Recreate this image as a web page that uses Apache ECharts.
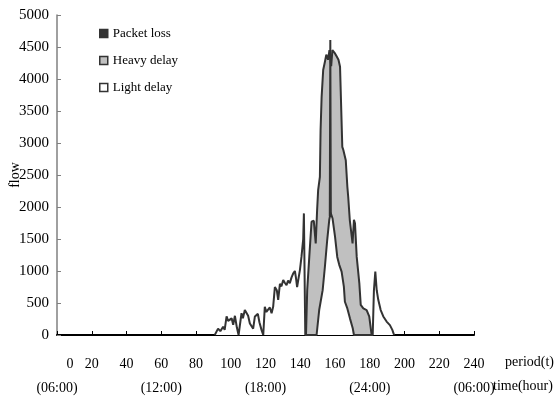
<!DOCTYPE html>
<html>
<head>
<meta charset="utf-8">
<script src="https://cdn.jsdelivr.net/npm/echarts@6/dist/echarts.min.js"></script>
<style>
html, body { margin: 0; padding: 0; background: #fff; }
#chart { width: 554px; height: 397px; }
</style>
</head>
<body>
<div id="chart"></div>
<script>
// period (t) vs flow
var lightDelay = [
    [90.8, 0], [92.7, 100], [94, 60], [95.6, 130], [96.5, 80], [97.6, 290], [98.5, 220], [99.5, 200],
    [100.5, 260], [101.4, 160], [102.4, 300], [103.5, 120], [104.5, 0], [106.2, 340], [107, 260],
    [108.1, 390], [109.1, 415], [110, 300], [111, 180], [112.9, 100], [113.9, 290], [115.6, 330],
    [116.5, 200], [117.7, 80], [118.7, 0], [119.6, 440], [120.5, 360], [121.4, 380], [122.5, 430],
    [123.5, 340], [124.4, 440], [125.4, 750], [126.5, 700], [127.3, 550], [128.3, 800], [129.2, 760],
    [130.2, 860], [131, 820], [132.1, 780], [133, 850], [134, 810], [135, 900], [135.9, 960],
    [136.9, 1000], [137.5, 900], [138.2, 750], [138.8, 850], [139.8, 1015], [140.7, 1220],
    [141.7, 1500], [142.1, 1900], [142.9, 0],
    [149.4, 0], [150.9, 390], [151.7, 415], [152.9, 700], [154.2, 1070], [155.5, 1480], [156.7, 1800],
    [157.5, 1910], [158.6, 1820], [160, 1540], [161.3, 1220], [162.4, 1100], [163.8, 990],
    [165.1, 755], [165.7, 520], [167.1, 415], [168.6, 260], [170.2, 105], [170.9, 0],
    [181.7, 0], [182.4, 700], [183.2, 990], [184, 700], [184.9, 550], [186.3, 390], [187.8, 290],
    [189.7, 210], [191.6, 155], [193, 80], [194, 0]
];
var heavyDelay = [
    [143.3, 0], [144, 700], [145.2, 1220], [146.5, 1770], [147.8, 1785], [148.9, 1430], [149.7, 1950],
    [150.3, 2265], [151.3, 2470], [151.7, 3200], [152.3, 3720], [153.2, 4140], [154.2, 4270],
    [155, 4380], [156, 4300], [156.8, 4450], [157.8, 4200], [158.5, 4450], [159, 4450], [160, 4400],
    [161, 4350], [162, 4300], [162.9, 4190], [164.2, 2940], [164.8, 2890], [166.2, 2730],
    [167.1, 2320], [167.6, 2160], [168.5, 1800], [169.5, 1790], [170.1, 1430], [170.9, 1800],
    [171.5, 1745], [172.5, 1220], [174, 810], [174.8, 470], [176.3, 415], [178.2, 390],
    [179.7, 290], [180.5, 310], [181.1, 0]
];
// the visible part of the packet loss spike, above the light delay peak
var packetLoss = [[157, 1860], [157.3, 4610], [157.6, 1890]];
var packetBase = 1860;

var timeTicks = [0, 60, 120, 180, 240];
var timeLabels = ['(06:00)', '(12:00)', '(18:00)', '(24:00)', '(06:00)'];

var font = 'Liberation Serif';
var lineColor = '#333';

var chartDom = document.getElementById('chart');
var myChart = echarts.init(chartDom);
var option;

option = {
    animation: false,
    backgroundColor: '#fff',
    textStyle: { fontFamily: font, color: '#000' },
    grid: { left: 57, right: 80, top: 15, bottom: 62, outerBoundsMode: 'none', containLabel: false },
    legend: {
        orient: 'vertical',
        left: 99,
        top: 27,
        padding: 0,
        itemWidth: 8,
        itemHeight: 8,
        itemGap: 14,
        textStyle: { fontFamily: font, fontSize: 13, color: '#000' },
        data: [
            { name: 'Packet loss', icon: 'rect', itemStyle: { color: '#333', borderColor: '#333', borderWidth: 1.5 } },
            { name: 'Heavy delay', icon: 'rect', itemStyle: { color: '#c0c0c0', borderColor: '#333', borderWidth: 1.5 } },
            { name: 'Light delay', icon: 'rect', itemStyle: { color: '#fff', borderColor: '#333', borderWidth: 1.5 } }
        ]
    },
    xAxis: {
        type: 'value',
        min: 0,
        max: 240,
        interval: 20,
        splitLine: { show: false },
        axisLine: { lineStyle: { color: '#000', width: 2 } },
        axisTick: { inside: true, length: 4, lineStyle: { color: '#000', width: 1 } },
        axisLabel: {
            margin: 17,
            fontFamily: font,
            fontSize: 14,
            color: '#000',
            lineHeight: 24,
            formatter: function (v) {
                var i = timeTicks.indexOf(v);
                var p = v === 0 ? '{z|0}' : String(v);
                return i >= 0 ? p + '\n' + timeLabels[i] : p;
            },
            rich: {
                z: { padding: [0, 0, 0, 26], fontFamily: font, fontSize: 14, lineHeight: 24 }
            }
        }
    },
    yAxis: {
        type: 'value',
        min: 0,
        max: 5000,
        interval: 500,
        name: 'flow',
        nameLocation: 'middle',
        nameGap: 35,
        nameMoveOverlap: false,
        nameTextStyle: { fontFamily: font, fontSize: 14, color: '#000' },
        splitLine: { show: false },
        axisLine: { show: true, lineStyle: { color: '#808080', width: 1.5 } },
        axisTick: { show: true, inside: true, length: 4, lineStyle: { color: '#808080' } },
        axisLabel: {
            margin: 8, fontFamily: font, fontSize: 15, color: '#000',
            formatter: function (v) { return String(v); }
        }
    },
    graphic: [
        { type: 'text', left: 505, top: 355, style: { text: 'period(t)', font: '14px "Liberation Serif"', fill: '#000' } },
        { type: 'text', left: 493, top: 379, style: { text: 'time(hour)', font: '14px "Liberation Serif"', fill: '#000' } }
    ],
    series: [
        {
            name: 'Heavy delay',
            type: 'line',
            z: 2,
            data: heavyDelay,
            showSymbol: false,
            color: '#c0c0c0',
            lineStyle: { color: lineColor, width: 2 },
            areaStyle: { color: '#c0c0c0', opacity: 1 }
        },
        {
            name: 'Packet loss',
            type: 'line',
            z: 3,
            data: packetLoss,
            showSymbol: false,
            color: '#333',
            lineStyle: { color: lineColor, width: 2 },
            areaStyle: { color: '#333', opacity: 1, origin: packetBase }
        },
        {
            name: 'Light delay',
            type: 'line',
            z: 4,
            data: lightDelay,
            showSymbol: false,
            color: '#fff',
            lineStyle: { color: lineColor, width: 2 },
            areaStyle: { color: '#fff', opacity: 1 }
        }
    ]
};

option && myChart.setOption(option);
</script>
</body>
</html>
